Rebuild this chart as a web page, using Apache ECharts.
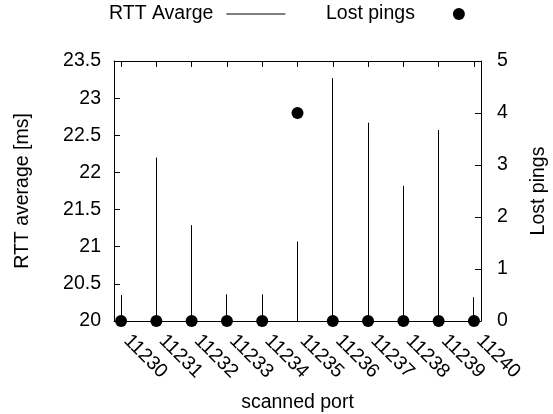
<!DOCTYPE html>
<html>
<head>
<meta charset="utf-8">
<script src="https://cdn.jsdelivr.net/npm/echarts@6/dist/echarts.min.js"></script>
<style>
  html, body { margin: 0; padding: 0; background: #fff; }
  #chart { width: 553px; height: 414px; }
</style>
</head>
<body>
<div id="chart"></div>
<script>
// data
var ports = [11230, 11231, 11232, 11233, 11234, 11235, 11236, 11237, 11238, 11239, 11240];
var rttAvg = [20.35, 22.2, 21.29, 20.36, 20.36, 21.07, 23.27, 22.67, 21.82, 22.57, 20.32];
var lostPings = [0, 0, 0, 0, 0, 4, 0, 0, 0, 0, 0];

var FONT = 'Liberation Sans';
var FS = 19.5;

var rttData = ports.map(function (p, i) { return [p, rttAvg[i]]; });
var lostData = ports.map(function (p, i) { return [p, lostPings[i]]; });

var axisLine = { show: true, lineStyle: { color: '#000', width: 1 } };
var txt = { fontFamily: FONT, fontSize: FS, color: '#000' };

var chart = echarts.init(document.getElementById('chart'));
chart.setOption({
  animation: false,
  textStyle: { fontFamily: FONT },
  grid: { left: 114, right: 72, top: 61, bottom: 93, outerBoundsMode: 'none', containLabel: false },
  legend: [
    {
      data: [{ name: 'RTT Avarge', icon: 'rect' }],
      left: 109, top: 4, padding: 0,
      align: 'right',
      itemWidth: 59, itemHeight: 1,
      itemStyle: { color: '#000' },
      textStyle: { fontFamily: FONT, fontSize: FS, color: '#000', padding: [0, 8, 0, 0] }
    },
    {
      data: [{ name: 'Lost pings', icon: 'circle' }],
      left: 326, top: 4, padding: 0,
      align: 'right',
      itemWidth: 12, itemHeight: 12,
      itemStyle: { color: '#000', opacity: 1 },
      textStyle: { fontFamily: FONT, fontSize: FS, color: '#000', padding: [0, 33, 0, 0] }
    }
  ],
  xAxis: [
    {
      type: 'value',
      position: 'bottom',
      min: 11229.8, max: 11240.2,
      name: 'scanned port',
      nameLocation: 'middle',
      nameGap: 72,
      nameTextStyle: txt,
      axisLine: axisLine,
      axisTick: { show: true, inside: true, length: 6, customValues: ports, lineStyle: { color: '#000' } },
      axisLabel: {
        customValues: ports,
        rotate: -45,
        margin: 11,
        padding: [0, 0, 0, 8],
        fontFamily: FONT, fontSize: FS, color: '#000',
        formatter: function (v) { return String(v); }
      },
      splitLine: { show: false }
    },
    {
      type: 'value',
      position: 'top',
      min: 11229.8, max: 11240.2,
      axisLine: axisLine,
      axisTick: { show: true, inside: true, length: 6, customValues: ports, lineStyle: { color: '#000' } },
      axisLabel: { show: false },
      splitLine: { show: false }
    }
  ],
  yAxis: [
    {
      type: 'value',
      position: 'left',
      min: 20, max: 23.5, interval: 0.5,
      name: 'RTT average [ms]',
      nameLocation: 'middle',
      nameRotate: 90,
      nameGap: 81,
      nameTextStyle: txt,
      axisLine: axisLine,
      axisTick: { show: true, inside: true, length: 6, lineStyle: { color: '#000' } },
      axisLabel: { margin: 13, fontFamily: FONT, fontSize: FS, color: '#000' },
      splitLine: { show: false }
    },
    {
      type: 'value',
      position: 'right',
      min: 0, max: 5, interval: 1,
      name: 'Lost pings',
      nameLocation: 'middle',
      nameRotate: 90,
      nameGap: 48,
      nameTextStyle: txt,
      axisLine: axisLine,
      axisTick: { show: true, inside: true, length: 6, lineStyle: { color: '#000' } },
      axisLabel: { margin: 16, fontFamily: FONT, fontSize: FS, color: '#000' },
      splitLine: { show: false }
    }
  ],
  series: [
    {
      name: 'RTT Avarge',
      type: 'custom',
      xAxisIndex: 0,
      yAxisIndex: 0,
      itemStyle: { color: '#000' },
      renderItem: function (params, api) {
        var top = api.coord([api.value(0), api.value(1)]);
        var base = api.coord([api.value(0), 20]);
        // snap to the half pixel the way the axis ticks do
        var x = Math.floor(top[0]) + 0.5;
        return {
          type: 'line',
          shape: { x1: x, y1: base[1], x2: x, y2: top[1] },
          style: { stroke: '#000', lineWidth: 1 }
        };
      },
      encode: { x: 0, y: 1 },
      data: rttData
    },
    {
      name: 'Lost pings',
      type: 'scatter',
      xAxisIndex: 0,
      yAxisIndex: 1,
      symbol: 'circle',
      symbolSize: 12,
      clip: false,
      z: 3,
      itemStyle: { color: '#000', opacity: 1 },
      data: lostData
    }
  ]
});
</script>
</body>
</html>
